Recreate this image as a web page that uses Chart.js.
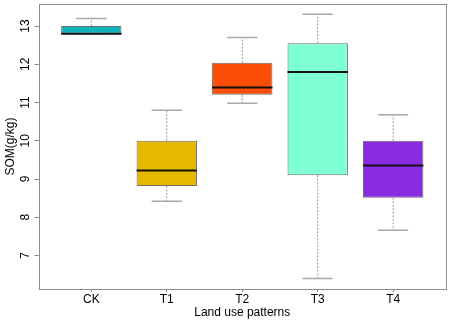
<!DOCTYPE html>
<html>
<head>
<meta charset="utf-8">
<script src="https://cdn.jsdelivr.net/npm/chart.js@4/dist/chart.umd.min.js"></script>
<style>
  body { margin: 0; background: #fff; }
  #box { display: block; }
</style>
</head>
<body>
<canvas id="box" width="449" height="321"></canvas>
<script>
// Boxplot of soil organic matter by land use pattern
const categories = ['CK', 'T1', 'T2', 'T3', 'T4'];
const whiskerLow = [12.8, 8.42, 10.98, 6.4, 7.66];
const q1 = [12.8, 8.82, 11.2, 9.1, 8.51];
const medians = [12.8, 9.22, 11.39, 11.8, 9.35];
const q3 = [13.0, 10.0, 12.04, 12.55, 10.0];
const whiskerHigh = [13.2, 10.8, 12.7, 13.31, 10.68];
const boxColors = ['#0fb1bd', '#e7b800', '#fc4e07', '#7fffd4', '#8a2be2'];
const yTicks = [7, 8, 9, 10, 11, 12, 13];

const FONT = 'Liberation Sans, Arial, sans-serif';
const AXIS_GREY = '#8c8c8c';

// whiskers, staples, medians, frame and rotated y labels
const boxplotExtras = {
  id: 'boxplotExtras',
  beforeDatasetsDraw(chart) {
    const { ctx, scales: { x, y } } = chart;
    const bars = chart.getDatasetMeta(0).data;
    ctx.save();
    categories.forEach((c, i) => {
      const cx = x.getPixelForValue(i + 1);
      const half = bars[i].width / 4;
      ctx.strokeStyle = '#9a9a9a';
      ctx.lineWidth = 1;
      ctx.setLineDash([2, 1.5]);
      ctx.beginPath();
      ctx.moveTo(cx, y.getPixelForValue(q3[i]));
      ctx.lineTo(cx, y.getPixelForValue(whiskerHigh[i]));
      ctx.moveTo(cx, y.getPixelForValue(q1[i]));
      ctx.lineTo(cx, y.getPixelForValue(whiskerLow[i]));
      ctx.stroke();
      ctx.setLineDash([]);
      ctx.strokeStyle = '#a8a8a8';
      ctx.lineWidth = 1.5;
      ctx.beginPath();
      [whiskerHigh[i], whiskerLow[i]].forEach(v => {
        const py = y.getPixelForValue(v);
        ctx.moveTo(cx - half, py);
        ctx.lineTo(cx + half, py);
      });
      ctx.stroke();
    });
    ctx.restore();
  },
  afterDatasetsDraw(chart) {
    const { ctx, chartArea: a, scales: { x, y } } = chart;
    const bars = chart.getDatasetMeta(0).data;
    ctx.save();
    ctx.strokeStyle = '#111';
    ctx.lineWidth = 2;
    categories.forEach((c, i) => {
      const cx = x.getPixelForValue(i + 1);
      const half = bars[i].width / 2;
      const py = y.getPixelForValue(medians[i]);
      ctx.beginPath();
      ctx.moveTo(cx - half, py);
      ctx.lineTo(cx + half, py);
      ctx.stroke();
    });
    ctx.strokeStyle = AXIS_GREY;
    ctx.lineWidth = 1;
    ctx.strokeRect(Math.round(a.left) + 0.5, Math.round(a.top) + 0.5,
      Math.round(a.right - a.left) - 1, Math.round(a.bottom - a.top));
    ctx.fillStyle = '#000';
    ctx.font = '12px ' + FONT;
    ctx.textAlign = 'center';
    ctx.textBaseline = 'middle';
    yTicks.forEach(v => {
      ctx.save();
      ctx.translate(26, y.getPixelForValue(v));
      ctx.rotate(-Math.PI / 2);
      ctx.fillText(String(v), 0, 0);
      ctx.restore();
    });
    ctx.restore();
  }
};

new Chart(document.getElementById('box'), {
  type: 'bar',
  data: {
    datasets: [{
      data: categories.map((c, i) => ({ x: i + 1, y: [q1[i], q3[i]] })),
      backgroundColor: boxColors,
      borderColor: '#6e6e6e',
      borderWidth: 1,
      borderSkipped: false,
      categoryPercentage: 1,
      barPercentage: 0.8
    }]
  },
  options: {
    responsive: false,
    animation: false,
    layout: { padding: { top: 4, right: 3, left: 0, bottom: 0 } },
    plugins: { legend: { display: false }, tooltip: { enabled: false } },
    scales: {
      x: {
        type: 'linear',
        min: 0.3,
        max: 5.7,
        offset: false,
        afterBuildTicks: s => { s.ticks = categories.map((c, i) => ({ value: i + 1 })); },
        afterFit: s => { s.height = 32; },
        grid: { drawOnChartArea: false, offset: false, color: AXIS_GREY, tickLength: 3 },
        border: { display: false },
        ticks: {
          callback: v => categories[v - 1],
          color: '#000',
          font: { family: FONT, size: 12 },
          padding: 0,
          maxRotation: 0
        },
        title: {
          display: true,
          text: 'Land use patterns',
          color: '#000',
          font: { family: FONT, size: 12 },
          padding: { top: 0, bottom: 1 }
        }
      },
      y: {
        min: 6.124,
        max: 13.576,
        afterBuildTicks: s => { s.ticks = yTicks.map(v => ({ value: v })); },
        afterFit: s => { s.width = 38.5; },
        grid: { drawOnChartArea: false, color: AXIS_GREY, tickLength: 4 },
        border: { display: false },
        ticks: { display: false },
        title: {
          display: true,
          text: 'SOM(g/kg)',
          color: '#000',
          font: { family: FONT, size: 12 },
          padding: { top: 3, bottom: 0 }
        }
      }
    }
  },
  plugins: [boxplotExtras]
});
</script>
</body>
</html>
